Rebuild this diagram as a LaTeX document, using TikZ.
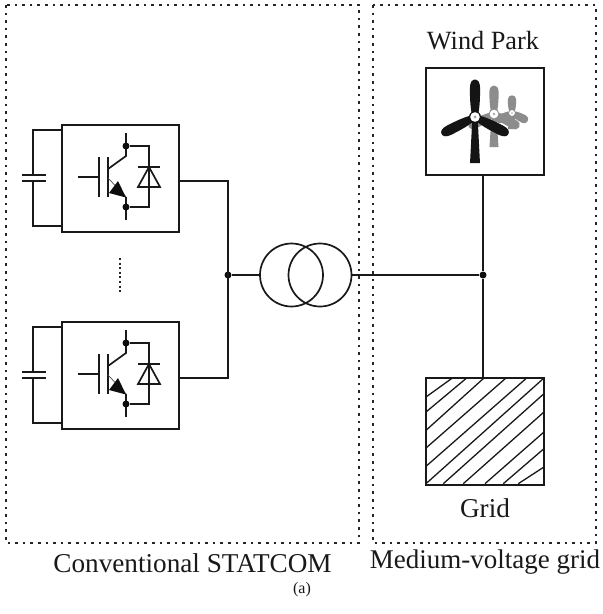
\documentclass[tikz,border=0pt]{standalone}
\usepackage{fontspec}
\setmainfont{Liberation Serif}
\tikzset{
  wire/.style={line width=1.7pt,draw=black!90},
  bx/.style={line width=1.8pt,draw=black!90},
  dotbox/.style={line width=1.7pt,draw=black!85,dash pattern=on 2.6pt off 5pt},
  dotj/.style={circle,fill=black!95,inner sep=0pt,minimum size=7pt},
  lab/.style={font=\fontsize{27.2}{30}\selectfont,text=black!90,inner sep=0pt},
  lbl/.style={font=\fontsize{16}{18}\selectfont,text=black!90,inner sep=0pt},
  hatchline/.style={line width=1.3pt,draw=black!90}
}
\newcommand{\igbt}[1]{%
\begin{scope}[yshift=-#1pt]
 \draw[bx] (62,-125) rectangle (179,-232);
 \draw[wire] (62,-130) -- (33,-130) -- (33,-175);
 \draw[wire] (33,-181) -- (33,-226) -- (62,-226);
 \draw[wire] (22,-175) -- (46,-175) (22,-181) -- (46,-181);
 \draw[wire] (78,-177) -- (99,-177);
 \draw[wire] (99,-157) -- (99,-197);
 \draw[wire] (108,-157) -- (108,-197);
 \draw[wire] (108,-169) -- (126,-156) -- (126,-133);
 \draw[line width=.7pt,black!70] (108,-178) -- (126,-197);
 \fill[black!95] (109,-193) -- (126,-197.5) -- (118,-181) -- cycle;
 \draw[wire] (126,-197) -- (126,-220);
 \node[dotj] (c#1) at (126,-146) {};
 \node[dotj] (e#1) at (126,-207) {};
 \draw[wire] (c#1) -- (149,-146) -- (149,-207) -- (e#1);
 \draw[wire] (138,-167) -- (160,-167);
 \draw[wire] (149,-167) -- (138,-187) -- (160,-187) -- cycle;
\end{scope}}
% hub x, hub y, blade width scale, blade length scale, tower length, colour, hub scale
\newcommand{\turbine}[7]{%
\begin{scope}[shift={(#1,#2)}]
 \fill[#6] (-2.4*#3,0) -- (-4.6*#3,-#5) -- (4.6*#3,-#5) -- (2.4*#3,0) -- cycle;
 \foreach \a in {0,117,243}{
  \fill[#6,rotate=\a,xscale=#3,yscale=#4] (-3,3) .. controls (-4.7,12) and (-4.7,22) .. (-4.7,29) .. controls (-4.7,35) and (-2.5,37.5) .. (0,37.5) .. controls (2.5,37.5) and (4.7,35) .. (4.7,29) .. controls (4.7,22) and (4.7,12) .. (3,3) -- cycle;
 }
 \fill[#6] (0,0) circle (6*#7);
 \fill[white] (0,0) circle (4.8*#7);
 \fill[black!35] (0,0) circle (1.6*#7);
\end{scope}}
\begin{document}
\begin{tikzpicture}[x=1pt,y=1pt]
\useasboundingbox (0,-614) rectangle (603,0);
\fill[white] (0,-614) rectangle (603,0);
\draw[dotbox] (6,-5) rectangle (359,-543);
\draw[dotbox] (373,-5) rectangle (596,-543);
\igbt{0}
\igbt{197}
\draw[line width=1.4pt,dash pattern=on 2pt off 2.6pt,black!85] (120,-258) -- (120,-294);
% buses
\coordinate (o1) at (179,-181);
\coordinate (o2) at (179,-378);
\node[dotj] (j1) at (228,-275) {};
\draw[wire] (o1) -- (228,-181) -- (228,-378) -- (o2);
\node[draw,wire,circle,minimum size=63pt,inner sep=0pt] (t1) at (291.5,-275) {};
\node[draw,wire,circle,minimum size=63pt,inner sep=0pt] (t2) at (320,-275) {};
\draw[wire] (j1) -- (t1.west);
\node[dotj] (j2) at (483,-275) {};
\draw[wire] (t2.east) -- (j2);
% wind park
\node[bx,draw,minimum width=118pt,minimum height=107pt,inner sep=0pt] (wp) at (485,-121.5) {};
\node[bx,draw,minimum width=118pt,minimum height=107pt,inner sep=0pt] (grid) at (485,-431.5) {};
\draw[wire] (483,-175) -- (j2) -- (483,-378);
\turbine{512}{-113}{.88}{.47}{16}{black!45}{.6}
\turbine{494}{-114}{.98}{.76}{33}{black!45}{.9}
\turbine{475}{-117}{1.08}{1}{46}{black!92}{1}
% hatch
\begin{scope}[shift={(420,-372)},x=.3333pt,y=-.3333pt]
 \foreach \a/\b/\c/\d in {18/75/97/18,18/120/140/18,18/175/192/18,18/228/258/18,18/283/320/18,18/335/372/18,70/335/372/65,130/335/372/120,195/335/372/180,250/335/372/230,295/335/372/285}{
  \draw[hatchline] (\a,\b) -- (\c,\d);
 }
\end{scope}
\node[lab,font=\fontsize{26.3}{30}\selectfont] (a) at (483,-41) {Wind Park};
\node[lab] (b) at (485,-508) {Grid};
\node[lab] (c) at (192.5,-563) {Conventional STATCOM};
\node[lab,font=\fontsize{27}{30}\selectfont] (d) at (485,-562) {Medium-voltage grid};
\node[lbl] (e) at (302,-590) {(a)};
\end{tikzpicture}
\end{document}
